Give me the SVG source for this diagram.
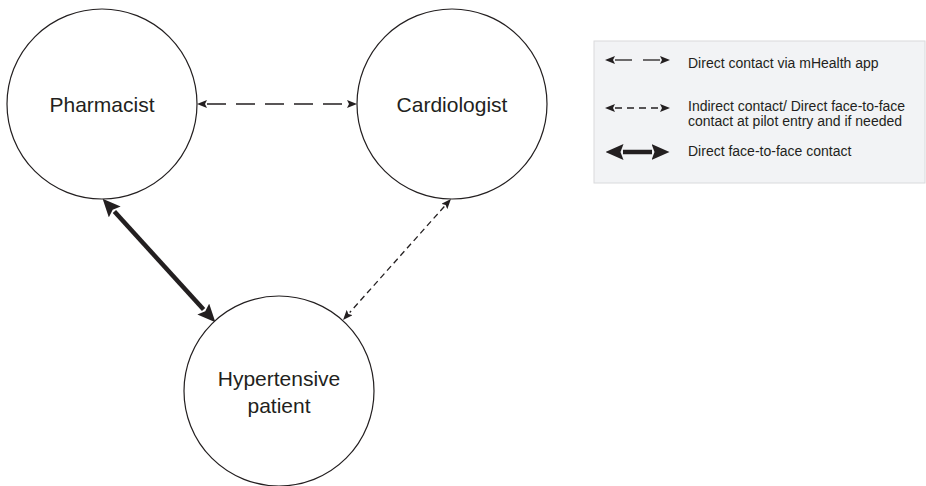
<svg xmlns="http://www.w3.org/2000/svg" width="926" height="486" viewBox="0 0 926 486">
<style>
.node{fill:#fff;stroke:#231f20;stroke-width:1.2}
.lbl{font-family:"Liberation Sans",Arial,sans-serif;font-size:21px;fill:#231f20;text-anchor:middle}
.leg{font-family:"Liberation Sans",Arial,sans-serif;font-size:14px;fill:#231f20}
.thin{stroke:#231f20;stroke-width:1.3;fill:none}
.thick{stroke:#231f20;stroke-width:4.5;fill:none}
</style>
<defs>
<marker id="aS" markerUnits="userSpaceOnUse" markerWidth="10" markerHeight="8" viewBox="0 0 10 8" refX="0" refY="4" orient="auto-start-reverse">
<path d="M0,0 L10,4 L0,8 L2,4 Z" fill="#231f20"/>
</marker>
<marker id="aL" markerUnits="userSpaceOnUse" markerWidth="18" markerHeight="16" viewBox="0 0 18 16" refX="0.5" refY="8" orient="auto-start-reverse">
<path d="M0,0 L18,8 L0,16 L3,8 Z" fill="#231f20"/>
</marker>
</defs>
<rect x="594" y="41" width="331" height="142" fill="#f2f3f5" stroke="#d9dadc" stroke-width="1"/>
<g id="connectors">
<line class="thin" x1="207" y1="104" x2="347" y2="104" stroke-dasharray="19 10" marker-start="url(#aS)" marker-end="url(#aS)"/>
<line class="thick" x1="114.4" y1="211.6" x2="203.6" y2="309.4" marker-start="url(#aL)" marker-end="url(#aL)"/>
<line class="thin" stroke-width="1.1" x1="444.3" y1="206.5" x2="349.7" y2="312.5" stroke-dasharray="6 4" marker-start="url(#aS)" marker-end="url(#aS)"/>
</g>
<g id="pharmacist">
<circle class="node" cx="102" cy="104" r="95"/>
<text class="lbl" x="102" y="112">Pharmacist</text>
</g>
<g id="cardiologist">
<circle class="node" cx="452" cy="104" r="95"/>
<text class="lbl" x="452" y="112">Cardiologist</text>
</g>
<g id="patient">
<circle class="node" cx="279" cy="391" r="95"/>
<text class="lbl" x="279" y="386">Hypertensive</text>
<text class="lbl" x="279" y="413">patient</text>
</g>
<g id="legend">
<line class="thin" x1="615" y1="60" x2="632" y2="60" marker-start="url(#aS)"/>
<line class="thin" x1="643" y1="60" x2="660" y2="60" marker-end="url(#aS)"/>
<text class="leg" x="688" y="68">Direct contact via mHealth app</text>
<line class="thin" x1="615" y1="108" x2="660" y2="108" stroke-dasharray="7 5" marker-start="url(#aS)" marker-end="url(#aS)"/>
<text class="leg" x="688" y="111">Indirect contact/ Direct face-to-face</text>
<text class="leg" x="688" y="126">contact at pilot entry and if needed</text>
<line class="thick" x1="623" y1="152" x2="652" y2="152" marker-start="url(#aL)" marker-end="url(#aL)"/>
<text class="leg" x="688" y="156">Direct face-to-face contact</text>
</g>
</svg>
